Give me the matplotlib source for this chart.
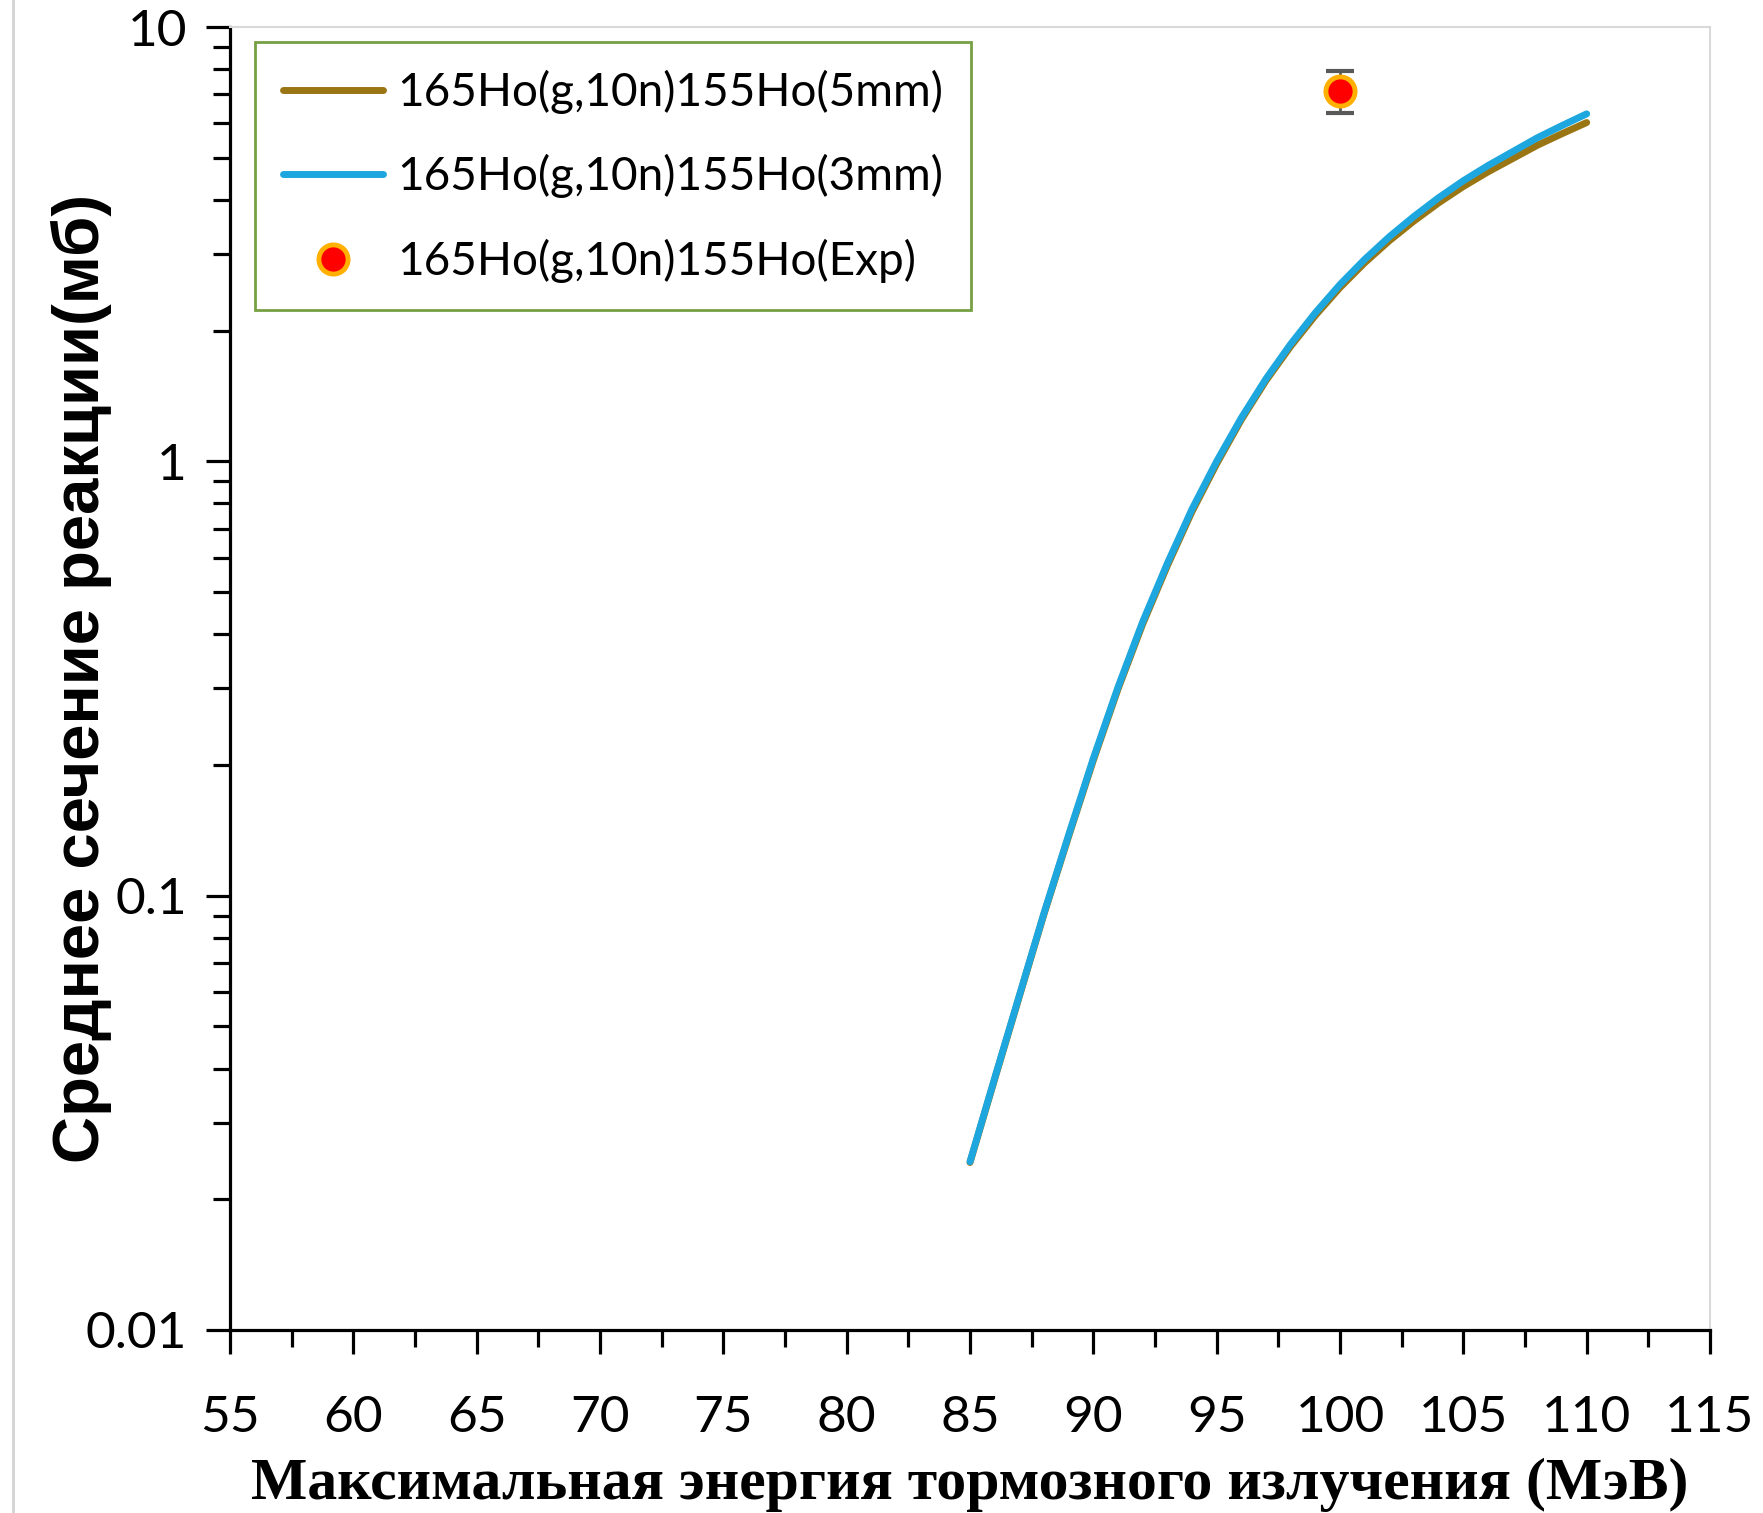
import matplotlib
matplotlib.use('Agg')
import matplotlib.pyplot as plt
from matplotlib.ticker import MultipleLocator, LogLocator, FuncFormatter, NullFormatter
from matplotlib.lines import Line2D

# data
energy = [85, 86, 87, 88, 89, 90, 91, 92, 93, 94, 95, 96, 97,
          98, 99, 100, 101, 102, 103, 104, 105, 106, 107, 108, 109, 110]
sigma_5mm = [0.0243, 0.0378, 0.0586, 0.0907, 0.137, 0.205, 0.299, 0.422, 0.575, 0.766, 0.987, 1.247, 1.534,
             1.840, 2.167, 2.512, 2.865, 3.220, 3.576, 3.937, 4.293, 4.639, 4.978, 5.342, 5.680, 6.026]
sigma_3mm = [0.0244, 0.0380, 0.0589, 0.0912, 0.138, 0.207, 0.302, 0.427, 0.582, 0.776, 1.00, 1.259, 1.549,
             1.862, 2.198, 2.553, 2.917, 3.289, 3.664, 4.046, 4.426, 4.797, 5.164, 5.559, 5.929, 6.310]
exp_e = [100]
exp_sigma = [7.13]
exp_err = [0.79]

labels = ['165Ho(g,10n)155Ho(5mm)', '165Ho(g,10n)155Ho(3mm)', '165Ho(g,10n)155Ho(Exp)']
ylab = 'Среднее сечение реакции(мб)'
xlab = 'Максимальная энергия тормозного излучения (МэВ)'

W, H = 1763, 1513
fig = plt.figure(figsize=(W/100, H/100), dpi=100)
ax = fig.add_axes([230/W, 1-1330/H, 1480/W, 1303/H])

ax.plot(energy, sigma_5mm, color='#9a7514', lw=5, solid_capstyle='round', solid_joinstyle='round',
        label=labels[0], zorder=3)
ax.plot(energy, sigma_3mm, color='#1ea7df', lw=5, solid_capstyle='round', solid_joinstyle='round',
        label=labels[1], zorder=4)
ax.errorbar(exp_e, exp_sigma, yerr=exp_err, fmt='none', ecolor='#595959', elinewidth=2,
            capsize=10, capthick=3, zorder=5)
ax.plot(exp_e, exp_sigma, 'o', ms=21, mfc='#ff0000', mec='#ffb000', mew=3.5, ls='none',
        label=labels[2], zorder=6)

ax.set_yscale('log')
ax.set_xlim(55, 115)
ax.set_ylim(0.01, 10)
ax.xaxis.set_major_locator(MultipleLocator(5))
ax.xaxis.set_minor_locator(MultipleLocator(2.5))
ax.yaxis.set_major_locator(LogLocator(base=10))
ax.yaxis.set_minor_locator(LogLocator(base=10, subs=range(2, 10)))
ax.yaxis.set_major_formatter(FuncFormatter(lambda v, _: f'{v:g}'))
ax.yaxis.set_minor_formatter(NullFormatter())

for s in ['left', 'bottom']:
    ax.spines[s].set_color('black'); ax.spines[s].set_linewidth(2.3)
for s in ['top', 'right']:
    ax.spines[s].set_color('#d9d9d9'); ax.spines[s].set_linewidth(1.5)

ax.tick_params(which='both', direction='out', top=False, right=False, width=2.3, color='black')
ax.tick_params(which='major', length=17)
ax.tick_params(which='minor', length=12)
ax.tick_params(axis='y', which='major', pad=14)
ax.tick_params(axis='x', which='major', pad=30)
for t in ax.get_xticklabels() + ax.get_yticklabels():
    t.set_fontfamily('Lato'); t.set_fontsize(37)

ax.set_xlabel(xlab, family='Liberation Serif', fontweight='bold', fontsize=43, labelpad=12)
ax.set_ylabel(ylab, family='Liberation Sans', fontweight='bold', fontsize=47)
ax.yaxis.set_label_coords(-0.080, 0.5)

leg = ax.legend(loc='upper left', bbox_to_anchor=(25/1480, 1-15/1303), borderaxespad=0,
                prop={'family': 'Lato', 'size': 33}, fancybox=False, framealpha=1,
                edgecolor='#77a043', handlelength=2.2, handletextpad=0.3, labelspacing=0.88,
                borderpad=0.6, numpoints=1)
leg.get_frame().set_linewidth(2)

fig.add_artist(Line2D([13/W, 13/W], [0, 1], transform=fig.transFigure, color='#d4d4d4', lw=2))

fig.savefig('out.png', dpi=100, facecolor='white')
